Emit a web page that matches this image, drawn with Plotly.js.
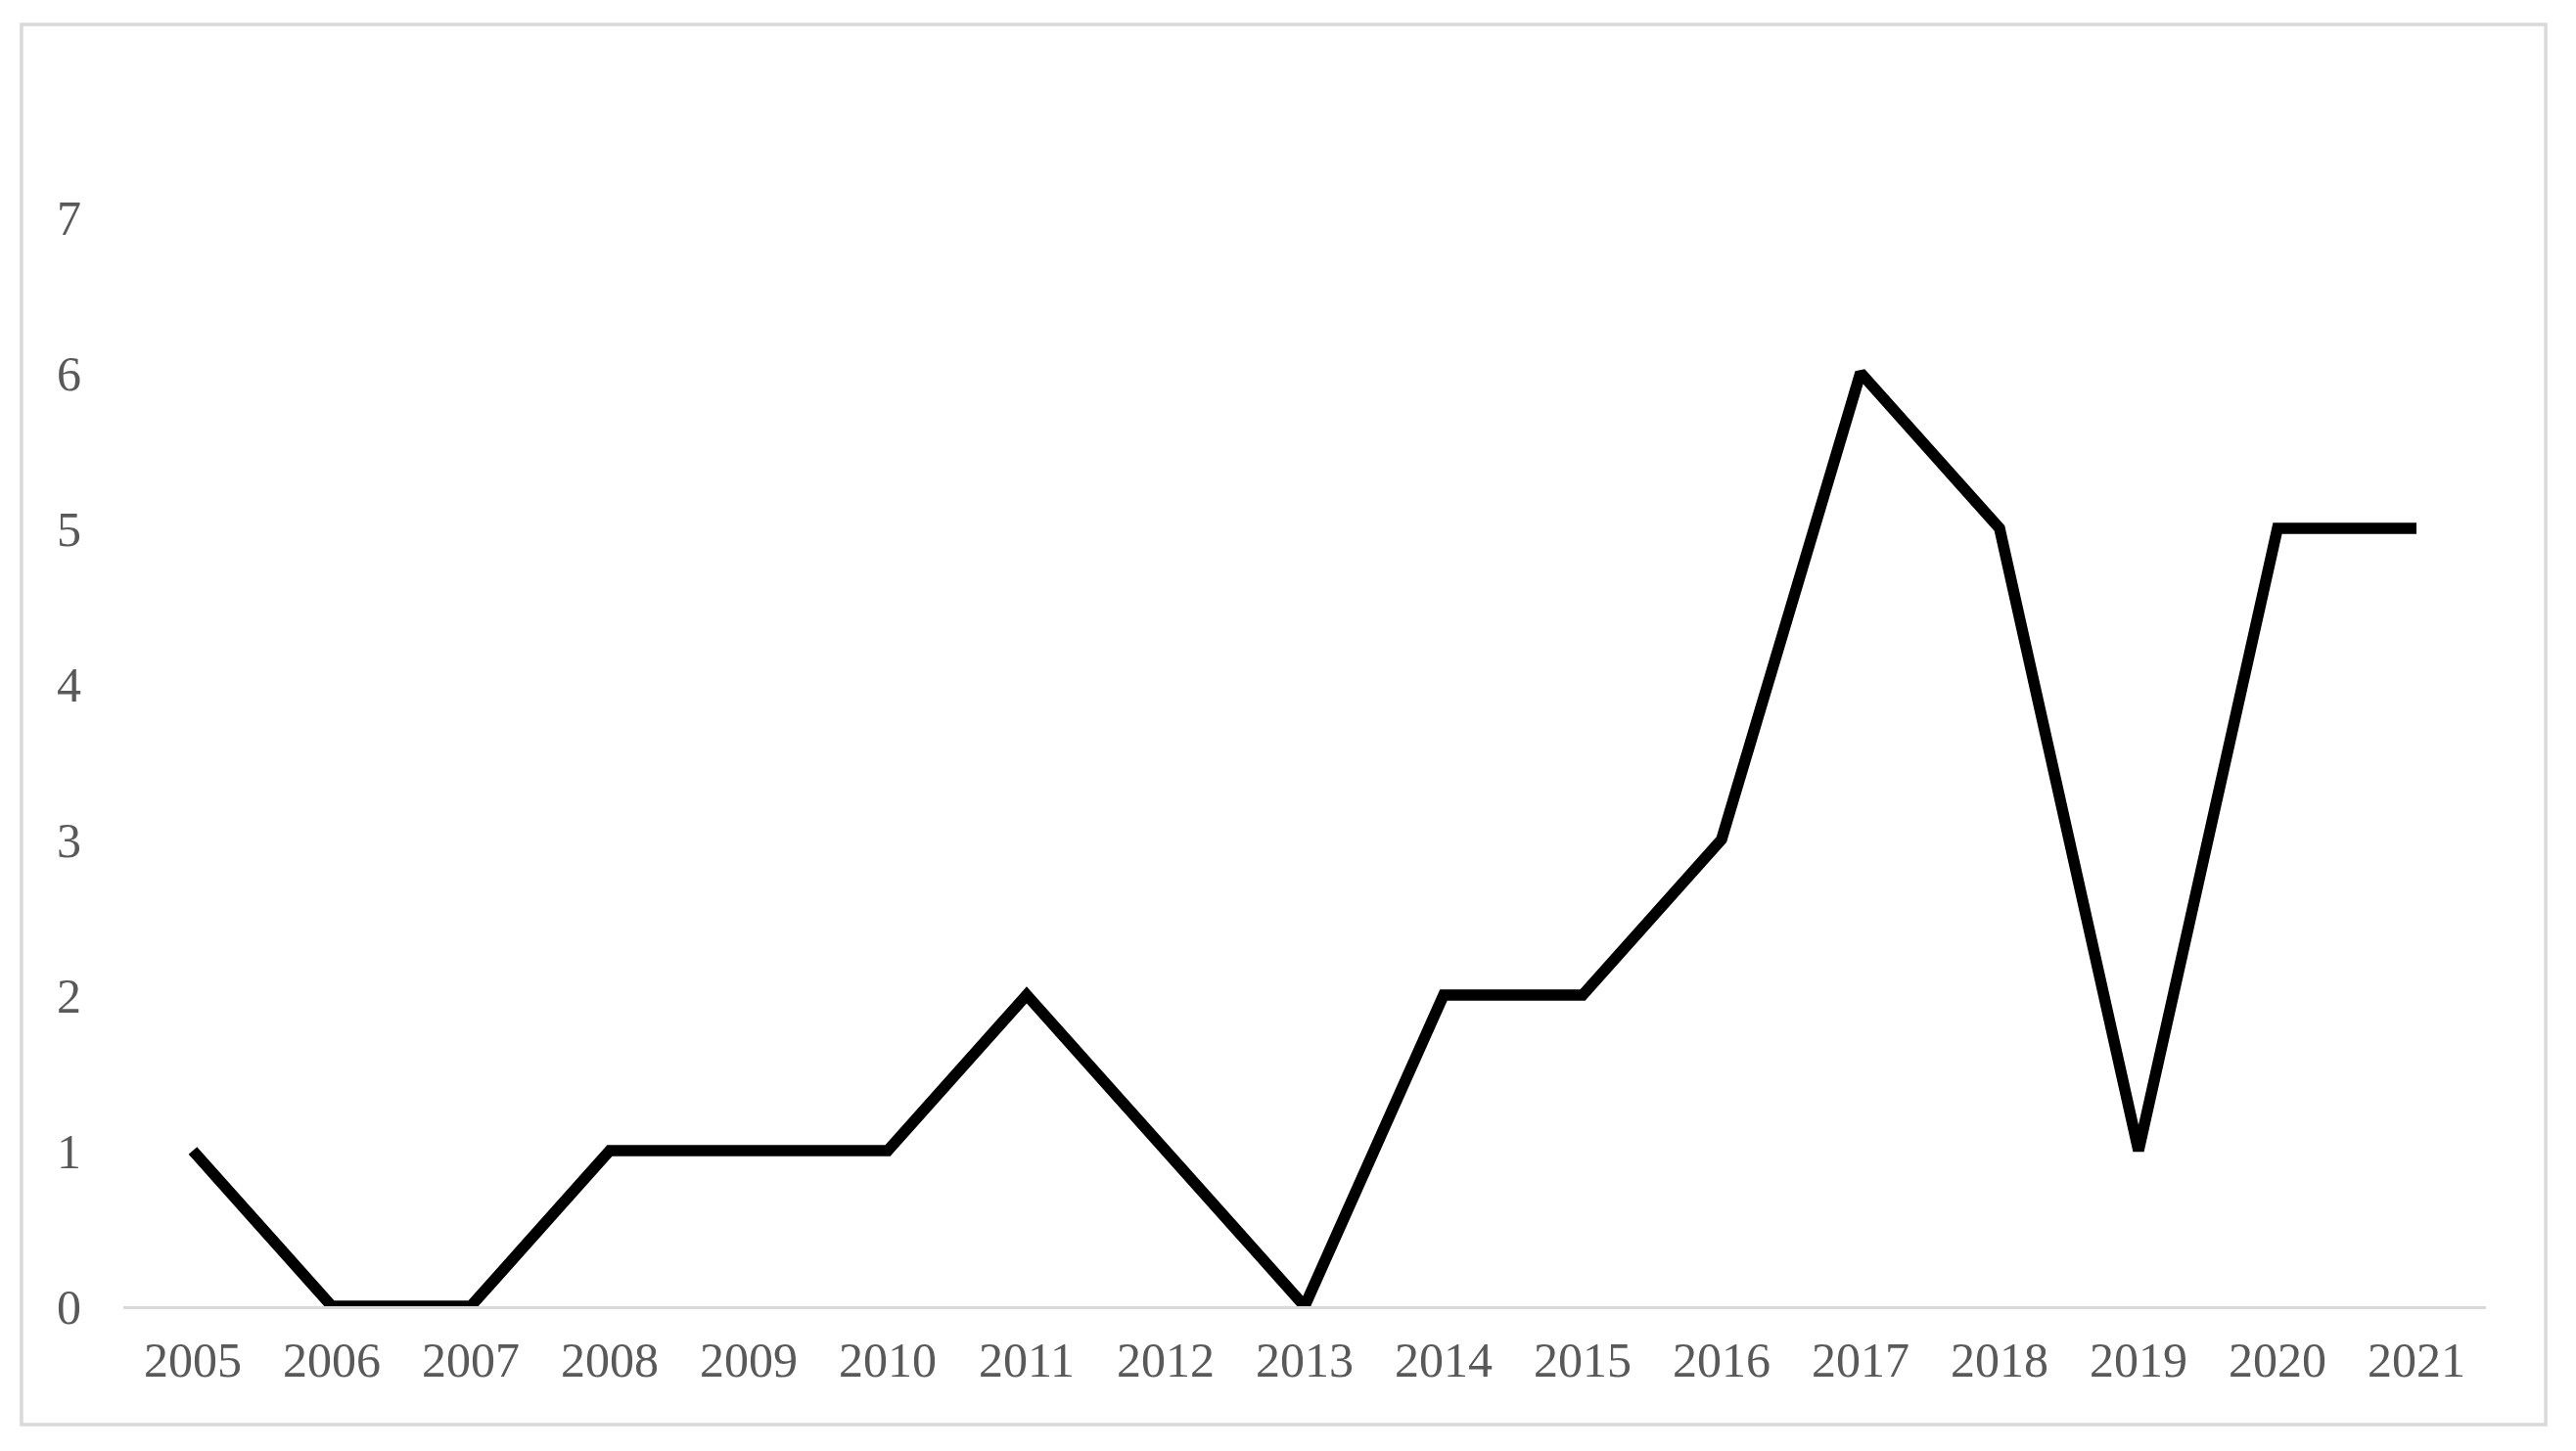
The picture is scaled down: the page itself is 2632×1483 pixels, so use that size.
<!DOCTYPE html>
<html>
<head>
<meta charset="utf-8">
<script src="https://cdn.plot.ly/plotly-3.0.1.min.js"></script>
<style>html,body{margin:0;padding:0;background:#fff;}#chart{width:2632px;height:1483px;}</style>
</head>
<body>
<div id="chart"></div>
<script>
const years = ["2005","2006","2007","2008","2009","2010","2011","2012","2013","2014","2015","2016","2017","2018","2019","2020","2021"];
const counts = [1,0,0,1,1,1,2,1,0,2,2,3,6,5,1,5,5];
const yTicks = [0,1,2,3,4,5,6,7];

const trace = {
  x: years, y: counts, type: "scatter", mode: "lines",
  line: {color: "#000000", width: 11.5},
  hoverinfo: "skip"
};
const font = {family: "Liberation Serif, Times New Roman, serif", size: 50, color: "#595959"};
const layout = {
  width: 2632, height: 1483,
  margin: {l: 126, r: 92, t: 63, b: 148},
  paper_bgcolor: "#ffffff", plot_bgcolor: "#ffffff",
  showlegend: false,
  font: font,
  xaxis: {
    type: "category", range: [-0.5, 16.5],
    showline: true, linecolor: "#d9d9d9", linewidth: 3,
    showgrid: false, zeroline: false, ticks: "",
    ticklabelstandoff: 9, tickfont: font, fixedrange: true
  },
  yaxis: {
    range: [0, 8], tickvals: yTicks, ticktext: yTicks.map(String),
    showline: false, showgrid: false, zeroline: false, ticks: "",
    ticklabelstandoff: 42, tickfont: font, fixedrange: true
  },
  shapes: [{
    type: "rect", xref: "paper", yref: "paper",
    x0: -0.0431, x1: 1.0253, y0: -0.0951, y1: 1.0299,
    line: {color: "#d9d9d9", width: 3.5}, fillcolor: "rgba(0,0,0,0)", layer: "below"
  }]
};
Plotly.newPlot("chart", [trace], layout, {staticPlot: true, displayModeBar: false});
</script>
</body>
</html>
